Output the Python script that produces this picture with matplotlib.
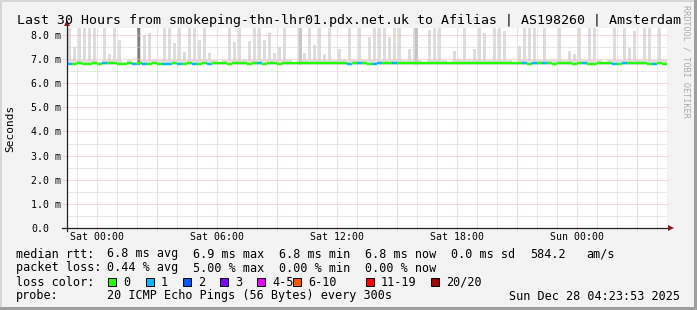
import numpy as np
import matplotlib
matplotlib.use('Agg')
import matplotlib.pyplot as plt
import matplotlib.patches as patches
from matplotlib.collections import LineCollection

plt.rcParams['font.family'] = ['DejaVu Sans Mono']

title = 'Last 30 Hours from smokeping-thn-lhr01.pdx.net.uk to Afilias | AS198260 | Amsterdam'

# 15 minute bins, time in hours relative to Sat 00:00
bin_start = -1.5
bin_hours = 0.25

# top of the smoke (slowest ping) per bin, seconds in ms units
smoke_max = [8.4, 7.5, 8.4, 8.4, 8.4, 8.4, 6.9, 8.4, 7.2, 8.4, 7.8, 6.9, 6.95, 6.9, 8.4, 8.0, 8.1, 6.95, 6.95, 8.4,
             8.4, 7.65, 8.4, 7.3, 8.4, 8.4, 7.8, 8.4, 7.25, 6.95, 6.9, 6.95, 8.4, 7.7, 8.4, 7.0, 7.75, 8.4, 8.4, 7.8,
             8.1, 7.24, 7.5, 8.4, 6.95, 6.9, 8.4, 7.24, 8.4, 7.6, 8.4, 7.2, 8.4, 6.95, 7.4, 7.0, 8.4, 6.95, 8.4, 6.95,
             7.9, 8.4, 8.4, 8.4, 7.9, 8.4, 8.4, 6.95, 7.4, 8.4, 6.95, 6.9, 8.2, 8.4, 8.4, 6.95, 6.9, 7.35, 7.0, 8.4,
             7.0, 7.4, 8.4, 8.1, 6.95, 8.4, 8.4, 8.15, 6.95, 6.9, 7.55, 8.4, 8.4, 8.4, 6.95, 8.4, 6.95, 6.95, 8.4, 6.95,
             7.35, 7.2, 8.4, 6.95, 8.4, 8.4, 6.95, 6.9, 6.95, 8.4, 6.95, 8.4, 7.45, 8.15, 6.95, 8.4, 8.4, 6.95, 8.4, 6.95]
smoke_floor = 6.74

median_rtt = [6.81, 6.81, 6.82, 6.81, 6.81, 6.82, 6.81, 6.82, 6.83, 6.82, 6.81, 6.81, 6.82, 6.81, 6.82, 6.81, 6.81, 6.82, 6.81, 6.81,
              6.81, 6.82, 6.81, 6.81, 6.82, 6.81, 6.81, 6.82, 6.81, 6.84, 6.82, 6.82, 6.81, 6.83, 6.82, 6.82, 6.81, 6.82, 6.82, 6.81,
              6.82, 6.83, 6.81, 6.83, 6.82, 6.84, 6.82, 6.82, 6.83, 6.82, 6.84, 6.83, 6.82, 6.83, 6.84, 6.82, 6.81, 6.82, 6.83, 6.82,
              6.81, 6.81, 6.83, 6.84, 6.82, 6.84, 6.83, 6.82, 6.83, 6.84, 6.83, 6.84, 6.82, 6.83, 6.84, 6.83, 6.82, 6.84, 6.85, 6.83,
              6.84, 6.83, 6.82, 6.83, 6.83, 6.85, 6.84, 6.83, 6.82, 6.84, 6.83, 6.82, 6.81, 6.82, 6.82, 6.84, 6.82, 6.81, 6.82, 6.82,
              6.82, 6.81, 6.82, 6.82, 6.81, 6.81, 6.82, 6.82, 6.83, 6.81, 6.81, 6.82, 6.83, 6.83, 6.82, 6.82, 6.81, 6.81, 6.82, 6.81]

pings_lost = [1, 0, 0, 0, 0, 0, 0, 1, 0, 0, 0, 0, 0, 1, 0, 1, 0, 0, 0, 1,
              1, 0, 1, 0, 0, 1, 0, 0, 1, 0, 0, 0, 0, 0, 0, 0, 0, 0, 1, 0,
              0, 0, 0, 0, 0, 0, 0, 0, 0, 0, 0, 0, 0, 0, 0, 0, 1, 0, 1, 0,
              0, 1, 1, 0, 0, 1, 0, 0, 0, 0, 0, 0, 0, 0, 0, 0, 0, 0, 0, 0,
              0, 0, 0, 0, 0, 0, 0, 0, 0, 0, 0, 1, 0, 1, 0, 1, 0, 0, 0, 0,
              0, 0, 0, 1, 0, 0, 0, 0, 0, 1, 0, 1, 0, 0, 0, 0, 0, 1, 0, 0]

# the few bins where the whole smoke is high (darker grey)
core_time = [1.98, 10.1, 15.88]
core_top = [8.4, 8.4, 8.4]
core_shade = ['#7F7F7F', '#C6C6C6', '#C2C2C2']

tick_hours = [0, 6, 12, 18, 24]
tick_labels = ['Sat 00:00', 'Sat 06:00', 'Sat 12:00', 'Sat 18:00', 'Sun 00:00']
ytick_vals = [0, 1, 2, 3, 4, 5, 6, 7, 8]
ytick_labels = ['0.0', '1.0 m', '2.0 m', '3.0 m', '4.0 m', '5.0 m', '6.0 m', '7.0 m', '8.0 m']

loss_labels = ['0', '1', '2', '3', '4-5', '6-10', '11-19', '20/20']
loss_colours = ['#26FF00', '#00B8FF', '#0059FF', '#7E00FF', '#E600FF', '#FF5500', '#FF0000', '#A10000']


def loss_colour(n):
    if n <= 3:
        return loss_colours[n]
    if n <= 5:
        return loss_colours[4]
    if n <= 10:
        return loss_colours[5]
    if n <= 19:
        return loss_colours[6]
    return loss_colours[7]


W, H = 697, 310


def fx(x):
    return x / W


def fy(y):
    return 1 - y / H


fig = plt.figure(figsize=(W / 100, H / 100), dpi=100)
fig.patch.set_facecolor('#F3F3F3')

# 3d-ish frame like rrdtool
fig.add_artist(patches.Rectangle((0, fy(2)), 1, 2 / H, transform=fig.transFigure, color='#D6D6D6', lw=0))
fig.add_artist(patches.Rectangle((0, 0), 2 / W, 1, transform=fig.transFigure, color='#D6D6D6', lw=0))
fig.add_artist(patches.Rectangle((0, 0), 1, 3 / H, transform=fig.transFigure, color='#9E9E9E', lw=0))
fig.add_artist(patches.Rectangle((fx(694), 0), 3 / W, 1, transform=fig.transFigure, color='#9E9E9E', lw=0))

ax = fig.add_axes([fx(67), fy(228), 600 / W, 200 / H])
ax.set_facecolor('white')
ax.set_xlim(-1.5, 28.5)
ax.set_ylim(0, 8.29)
for s in ax.spines.values():
    s.set_visible(False)

t = bin_start + np.arange(len(smoke_max)) * bin_hours
smax = np.array(smoke_max)

# smoke
ax.bar(t + bin_hours / 2, np.minimum(smax, 6.95) - smoke_floor, bottom=smoke_floor, width=bin_hours,
       color='#DDDDDD', linewidth=0, zorder=1)
ax.bar(t + bin_hours / 2, smax - smoke_floor, bottom=smoke_floor, width=bin_hours * 0.62,
       color='#DDDDDD', linewidth=0, zorder=1)
ax.bar(core_time, np.array(core_top) - smoke_floor, bottom=smoke_floor, width=0.16, align='edge',
       color=core_shade, linewidth=0, zorder=1.5)

# grid (rrdtool draws it over the smoke)
dot = (0, (1, 1))
maj_col = '#F6B8B8'
min_col = '#D2D2D2'
for h in range(-1, 29):
    if h % 3 == 0:
        ax.axvline(h, ymin=-3 / 200, ymax=1, color=maj_col, lw=0.72, ls=dot, clip_on=False, zorder=2)
    else:
        ax.axvline(h, ymin=-2 / 200, ymax=1, color=min_col, lw=0.72, ls=dot, clip_on=False, zorder=2)
for v in np.arange(0.5, 8.5, 0.5):
    if v % 1 == 0:
        ax.axhline(v, xmin=-4 / 600, xmax=1 + 2 / 600, color=maj_col, lw=0.72, ls=dot, clip_on=False, zorder=2)
    else:
        ax.axhline(v, xmin=0, xmax=1, color=min_col, lw=0.72, ls=dot, clip_on=False, zorder=2)

# median line coloured by loss
segs, cols = [], []
for i in range(len(median_rtt)):
    x0 = t[i]
    x1 = t[i] + bin_hours
    segs.append([(x0, median_rtt[i]), (x1, median_rtt[i])])
    cols.append(loss_colour(pings_lost[i]))
    if i + 1 < len(median_rtt):
        segs.append([(x1, median_rtt[i]), (x1, median_rtt[i + 1])])
        cols.append(loss_colour(pings_lost[i + 1]))
ax.add_collection(LineCollection(segs, colors=cols, linewidths=1.7, zorder=3))

# axes with arrows
ax.plot([0, 0], [-3 / 200, 1 + 4 / 200], color='#222222', lw=0.9, transform=ax.transAxes, clip_on=False, zorder=4)
ax.plot([-5 / 600, 1 + 1 / 600], [0, 0], color='#222222', lw=0.9, transform=ax.transAxes, clip_on=False, zorder=4)
ax.plot([0], [1 + 5 / 200], marker='^', ms=4.2, color='#8B1A1A', mew=0, transform=ax.transAxes, clip_on=False, zorder=5)
ax.plot([1 + 4 / 600], [0], marker='>', ms=4.2, color='#8B1A1A', mew=0, transform=ax.transAxes, clip_on=False, zorder=5)

ax.set_xticks(tick_hours, tick_labels)
ax.tick_params(axis='x', length=0, pad=3.0, labelsize=7.1)
ax.set_yticks([])
for v, lbl in zip(ytick_vals, ytick_labels):
    off = -6 if lbl.endswith('m') else -18
    ax.annotate(lbl, xy=(0, v), xycoords=('axes fraction', 'data'), xytext=(off, 0), textcoords='offset pixels',
                ha='right', va='center_baseline', fontsize=7.1)

fig.text(fx(10), fy(128), 'Seconds', rotation=90, ha='center', va='center', fontsize=8)
fig.text(fx(17), fy(24), title, va='baseline', fontsize=9.5)
fig.text(fx(686), fy(5), 'RRDTOOL / TOBI OETIKER', rotation=270, ha='center', va='top', fontsize=6.1, color='#ABABAB')

# legend block
lg = 8.5
fig.text(fx(16), fy(257.5), 'median rtt:', va='baseline', fontsize=lg)
for x, s in [(107, '6.8 ms avg'), (193, '6.9 ms max'), (279, '6.8 ms min'), (365, '6.8 ms now'),
             (451, '0.0 ms sd'), (530, '584.2'), (586, 'am/s')]:
    fig.text(fx(x), fy(257.5), s, va='baseline', fontsize=lg)
fig.text(fx(16), fy(271.5), 'packet loss:', va='baseline', fontsize=lg)
for x, s in [(107, '0.44 % avg'), (193, '5.00 % max'), (279, '0.00 % min'), (365, '0.00 % now')]:
    fig.text(fx(x), fy(271.5), s, va='baseline', fontsize=lg)
fig.text(fx(16), fy(285.5), 'loss color:', va='baseline', fontsize=lg)
sq_x = [108, 146, 183, 220, 257, 293, 366, 431]
for x, lbl, c in zip(sq_x, loss_labels, loss_colours):
    fig.add_artist(patches.Rectangle((fx(x), fy(285.5)), 8 / W, 8 / H, transform=fig.transFigure,
                                     facecolor=c, edgecolor='black', lw=0.7))
    fig.text(fx(x + 15), fy(285.5), lbl, va='baseline', fontsize=lg)
fig.text(fx(16), fy(299.5), 'probe:', va='baseline', fontsize=lg)
fig.text(fx(107), fy(299.5), '20 ICMP Echo Pings (56 Bytes) every 300s', va='baseline', fontsize=lg)
fig.text(fx(680), fy(299.5), 'Sun Dec 28 04:23:53 2025', ha='right', va='baseline', fontsize=lg)

fig.savefig('out.png', dpi=100, facecolor=fig.get_facecolor())
